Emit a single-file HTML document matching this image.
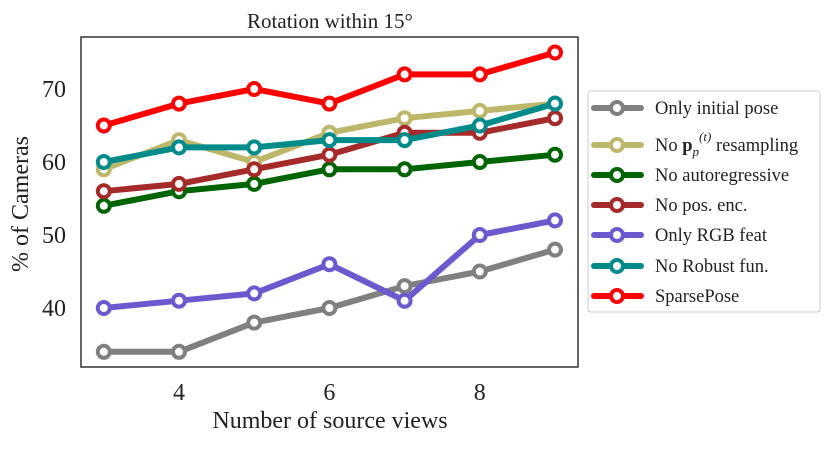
<!DOCTYPE html>
<html><head><meta charset="utf-8"><style>body{margin:0;background:#fff}svg text{font-family:"Liberation Serif",serif;fill:#222}</style></head>
<body>
<svg id="c" width="830" height="445"></svg>
<script>
const xs=[3,4,5,6,7,8,9];
const seriesNames=["Only initial pose","No p resampling","No autoregressive","No pos. enc.","Only RGB feat","No Robust fun.","SparsePose"];
const colors=["#808080","#bdb76b","#006400","#a52a2a","#6a5acd","#008b8b","#ff0000"];
const sOnlyInit=[34,34,38,40,43,45,48];
const sNoResamp=[59,63,60,64,66,67,68];
const sNoAuto=[54,56,57,59,59,60,61];
const sNoPos=[56,57,59,61,64,64,66];
const sOnlyRGB=[40,41,42,46,41,50,52];
const sNoRobust=[60,62,62,63,63,65,68];
const sSparse=[65,68,70,68,72,72,75];
const xTicks=[4,6,8];
const yTicks=[40,50,60,70];
const series=[sOnlyInit,sNoResamp,sNoAuto,sNoPos,sOnlyRGB,sNoRobust,sSparse];
const X=v=>179+(v-4)*75.2, Y=v=>162-(v-60)*7.3;
const svg=document.getElementById('c'),NS="http://www.w3.org/2000/svg";
function mk(t,a,p){const e=document.createElementNS(NS,t);for(const k in a)e.setAttribute(k,a[k]);(p||svg).appendChild(e);return e;}
let t=mk('text',{x:330,y:28,'font-size':21,'text-anchor':'middle'});t.textContent='Rotation within 15°';

let f=mk('rect',{x:81,y:37,width:497,height:330,fill:'none',stroke:'#333','stroke-width':1.5});

xTicks.forEach(v=>{const e=mk('text',{x:X(v),y:400,'font-size':24,'text-anchor':'middle'});e.textContent=v;
});
yTicks.forEach(v=>{const e=mk('text',{x:66,y:Y(v)+8,'font-size':24,'text-anchor':'end'});e.textContent=v;
});
t=mk('text',{x:330,y:428,'font-size':24,'text-anchor':'middle'});t.textContent='Number of source views';

t=mk('text',{x:0,y:0,'font-size':24,'text-anchor':'middle',transform:'translate(28,204) rotate(-90)'});t.textContent='% of Cameras';

series.forEach((s,i)=>{
 const g=mk('g',{});
 
 mk('polyline',{points:s.map((v,j)=>X(xs[j])+','+Y(v)).join(' '),fill:'none',stroke:colors[i],'stroke-width':6,'stroke-linejoin':'round'},g);
 s.forEach((v,j)=>{const c=mk('circle',{cx:X(xs[j]),cy:Y(v),r:6,fill:'#fff',stroke:colors[i],'stroke-width':4},g);
 });
});
const lg=mk('g',{});
mk('rect',{x:588,y:91,width:232,height:221,rx:3,fill:'#fff',stroke:'#ccc','stroke-width':1},lg);
const ly=[108,145,175,205,235,266,296];
seriesNames.forEach((n,i)=>{
 const g=mk('g',{},lg);
 mk('line',{x1:594,x2:641,y1:ly[i],y2:ly[i],stroke:colors[i],'stroke-width':6,'stroke-linecap':'round'},g);
 mk('circle',{cx:617,cy:ly[i],r:6,fill:'#fff',stroke:colors[i],'stroke-width':4},g);
 const e=mk('text',{x:655,y:ly[i]+6,'font-size':18.5},g);
 if(i===1){e.innerHTML='No <tspan font-weight="bold">p</tspan><tspan font-style="italic" font-size="13" dy="5">p</tspan><tspan font-style="italic" font-size="13" dy="-15">(t)</tspan><tspan dy="10"> resampling</tspan>';}
 else e.textContent=n;
});
</script>
</body></html>
